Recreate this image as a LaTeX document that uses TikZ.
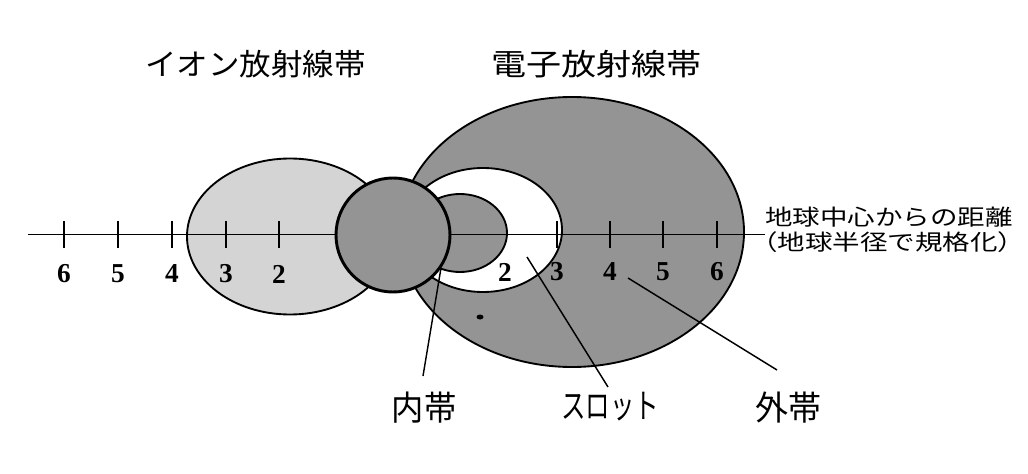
\documentclass[tikz,border=0pt]{standalone}
\usepackage{fontspec}
\usepackage{graphicx}
\setmainfont{Liberation Serif}
\newfontfamily\jp{Noto Sans CJK JP}
\definecolor{ionfill}{gray}{0.83}
\definecolor{darkfill}{gray}{0.58}
\begin{document}
\begin{tikzpicture}[x=0.75pt,y=-0.75pt,
  outl/.style={draw=black,line width=1.4pt},
  tick/.style={draw=black,line width=1.3pt},
  lead/.style={draw=black,line width=1.1pt},
  num/.style={inner sep=0pt,font=\bfseries\fontsize{20.5}{22}\selectfont},
  title/.style={inner sep=0pt,font=\jp\fontsize{22.5}{26}\selectfont},
  lbl/.style={inner sep=0pt,font=\jp\fontsize{25.5}{28}\selectfont},
  axlbl/.style={inner sep=0pt,anchor=west,font=\jp\fontsize{16.5}{19}\selectfont}]
\useasboundingbox (0,0) rectangle (1028,474);
% belts
\path[outl,fill=ionfill] (290,236.5) ellipse [x radius=103,y radius=78];
\path[outl,fill=darkfill] (572,232) ellipse [x radius=172,y radius=135];
\path[outl,fill=white] (483,230) ellipse [x radius=79,y radius=62];
\path[outl,fill=darkfill] (460,233) ellipse [x radius=47,y radius=39];
% axis
\coordinate (axL) at (28,234.5);
\coordinate (axR) at (765,234.5);
\draw[line width=1.1pt] (axL) -- (axR);
\foreach \xx in {64,118,172,226,279,557,610,663,717}
  \draw[tick] (\xx,221) -- (\xx,248);
\node[num] (n6l) at (64,274) {6};
\node[num] (n5l) at (118,274) {5};
\node[num] (n4l) at (172,274) {4};
\node[num] (n3l) at (226,274) {3};
\node[num] (n2l) at (279,274) {2};
\node[num] (n2r) at (505,272) {2};
\node[num] (n3r) at (557,272) {3};
\node[num] (n4r) at (610,272) {4};
\node[num] (n5r) at (663,272) {5};
\node[num] (n6r) at (717,272) {6};
% earth
\path[draw=black,line width=2.2pt,fill=darkfill] (393,235) circle [radius=57];
% small mark
\fill[black] (480,317) ellipse [x radius=3.5,y radius=2.5];
% labels
\node[title] (iont) at (255.5,64.5) {\scalebox{1.05}[1]{イオン放射線帯}};
\node[title] (elet) at (596.5,64.5) {\scalebox{1.17}[1]{電子放射線帯}};
\node[axlbl] (ax1) at (765,217.5) {\scalebox{1.25}[1]{地球中心からの距離}};
\node[axlbl] (ax2) at (750,242.5) {\scalebox{1.25}[1]{（地球半径で規格化）}};
\node[lbl] (inner) at (424,408) {\scalebox{0.95}[1]{内帯}};
\node[lbl] (slot) at (610,407) {\scalebox{0.72}[1]{スロット}};
\node[lbl] (outer) at (788,408) {\scalebox{0.97}[1]{外帯}};
% leaders
\coordinate (pin) at (441,268);
\coordinate (pinE) at (423,376);
\coordinate (psl) at (527,257);
\coordinate (pslE) at (608,387);
\coordinate (pou) at (628,278);
\coordinate (pouE) at (777,370);
\draw[lead] (pin) -- (pinE);
\draw[lead] (psl) -- (pslE);
\draw[lead] (pou) -- (pouE);
\end{tikzpicture}
\end{document}
